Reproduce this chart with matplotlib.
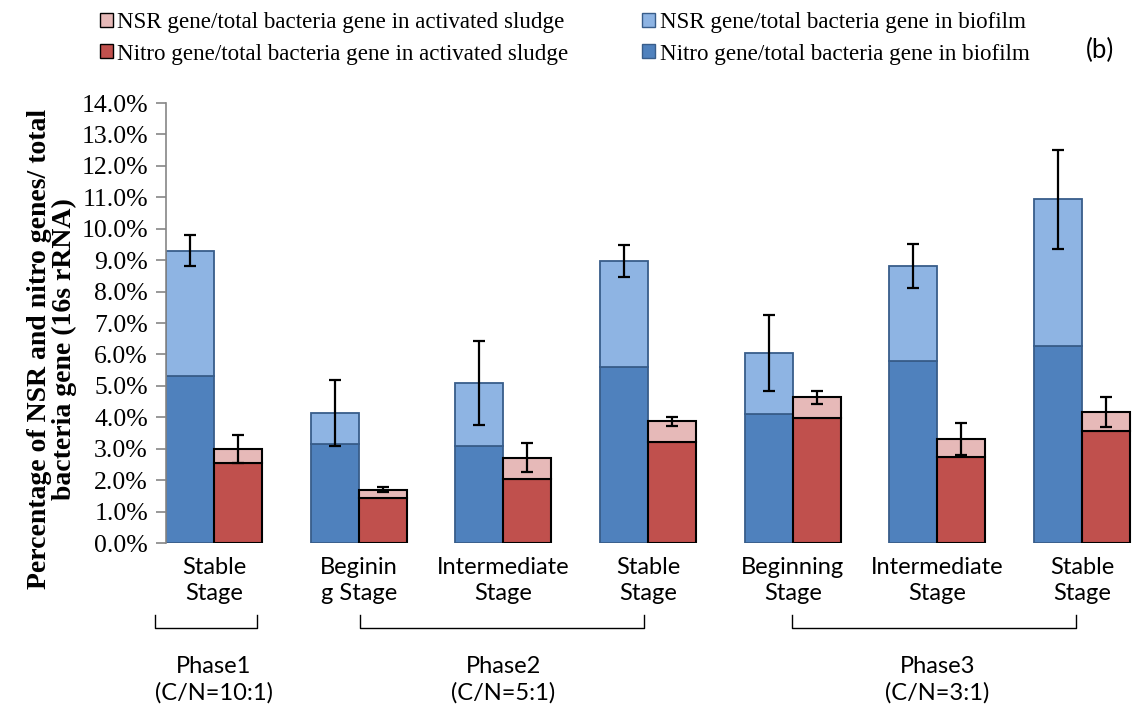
import matplotlib.pyplot as plt
import numpy as np
from matplotlib.patches import Patch
from matplotlib.transforms import blended_transform_factory

stages = ['Stable\nStage', 'Beginin\ng Stage', 'Intermediate\nStage', 'Stable\nStage',
          'Beginning\nStage', 'Intermediate\nStage', 'Stable\nStage']

# biofilm (%), nitro part + NSR part stacked
bio_nitro = [5.30, 3.15, 3.08, 5.60, 4.10, 5.80, 6.28]
bio_total = [9.30, 4.15, 5.10, 8.97, 6.05, 8.80, 10.93]
bio_err = [0.50, 1.05, 1.33, 0.50, 1.20, 0.70, 1.58]

# activated sludge (%)
sl_nitro = [2.55, 1.42, 2.05, 3.20, 3.98, 2.73, 3.55]
sl_total = [3.00, 1.70, 2.72, 3.87, 4.63, 3.30, 4.18]
sl_err = [0.45, 0.08, 0.47, 0.15, 0.20, 0.51, 0.48]

phases = ['Phase1\n(C/N=10:1)', 'Phase2\n(C/N=5:1)', 'Phase3\n(C/N=3:1)']
phase_span = [(-0.41, 0.30), (1.01, 2.97), (3.995, 5.96)]
phase_center = [0, 2, 5]

c_bio_n, c_bio_s, c_bio_e = '#4F81BD', '#8EB4E3', '#385D8A'
c_sl_n, c_sl_s = '#C0504D', '#E6B9B8'

fig = plt.figure(figsize=(11.34, 7.13), dpi=100)
ax = fig.add_axes([166 / 1134, 1 - 543 / 713, 1 - 166 / 1134, 440 / 713])

x = np.arange(len(stages))
w = 0.332
bio_nsr = np.array(bio_total) - np.array(bio_nitro)
sl_nsr = np.array(sl_total) - np.array(sl_nitro)

ax.bar(x - w / 2, bio_nitro, w, color=c_bio_n, edgecolor=c_bio_e, linewidth=1.3)
ax.bar(x - w / 2, bio_nsr, w, bottom=bio_nitro, color=c_bio_s, edgecolor=c_bio_e, linewidth=1.3)
ax.bar(x + w / 2, sl_nitro, w, color=c_sl_n, edgecolor='black', linewidth=1.5)
ax.bar(x + w / 2, sl_nsr, w, bottom=sl_nitro, color=c_sl_s, edgecolor='black', linewidth=1.5)

ax.errorbar(x - w / 2, bio_total, yerr=bio_err, fmt='none', ecolor='black',
            elinewidth=1.6, capsize=4.5, capthick=1.6)
ax.errorbar(x + w / 2, sl_total, yerr=sl_err, fmt='none', ecolor='black',
            elinewidth=1.6, capsize=4.5, capthick=1.6)

ax.set_ylim(0, 14)
ax.set_xlim((166 - 214) / 144.67, (1134 - 214) / 144.67)
ax.set_yticks(np.arange(0, 14.1, 1))
ax.set_yticklabels([f'{v:.1f}%' for v in np.arange(0, 14.1, 1)],
                   family='Liberation Serif', fontsize=18.5)
ax.set_xticks(x)
ax.set_xticklabels(stages, family='Lato', fontsize=17, linespacing=1.3)
ax.tick_params(axis='x', length=0, pad=10)
ax.tick_params(axis='y', length=7, width=1.2, color='#868686', pad=6, direction='out')
for s in ['top', 'right', 'bottom']:
    ax.spines[s].set_visible(False)
ax.spines['left'].set_color('#868686')
ax.spines['left'].set_linewidth(1.2)

ax.set_ylabel('Percentage of NSR and nitro genes/ total\nbacteria gene (16s rRNA)',
              family='Liberation Serif', fontweight='bold', fontsize=20, linespacing=1.0)
ax.yaxis.set_label_coords(-0.092, 0.44)

# phase brackets under the stage labels
tr = blended_transform_factory(ax.transData, fig.transFigure)
y_top, y_bot = 1 - 615 / 713, 1 - 628 / 713
for (a, b) in phase_span:
    ax.plot([a, a, b, b], [y_top, y_bot, y_bot, y_top], color='black', lw=1.0,
            transform=tr, clip_on=False)
for lab, c in zip(phases, phase_center):
    ax.text(c, 1 - 680 / 713, lab, transform=tr, ha='center', va='center',
            family='Lato', fontsize=17, linespacing=1.3)

handles = [Patch(facecolor=c_sl_s, edgecolor='black', label='NSR gene/total bacteria gene in activated sludge'),
           Patch(facecolor=c_sl_n, edgecolor='black', label='Nitro gene/total bacteria gene in activated sludge'),
           Patch(facecolor=c_bio_s, edgecolor=c_bio_e, label='NSR gene/total bacteria gene in biofilm'),
           Patch(facecolor=c_bio_n, edgecolor=c_bio_e, label='Nitro gene/total bacteria gene in biofilm')]
fig.legend(handles=handles, ncol=2, loc='upper left', bbox_to_anchor=(0.07, 1.012),
           frameon=False, prop={'family': 'Liberation Serif', 'size': 16.6},
           handlelength=0.55, handleheight=0.55, handletextpad=0.2,
           columnspacing=3.2, labelspacing=0.45)

fig.text(1100 / 1134, 1 - 50 / 713, '(b)', family='Lato', fontsize=18.5, ha='center', va='center')

fig.savefig('out.png', dpi=100)
